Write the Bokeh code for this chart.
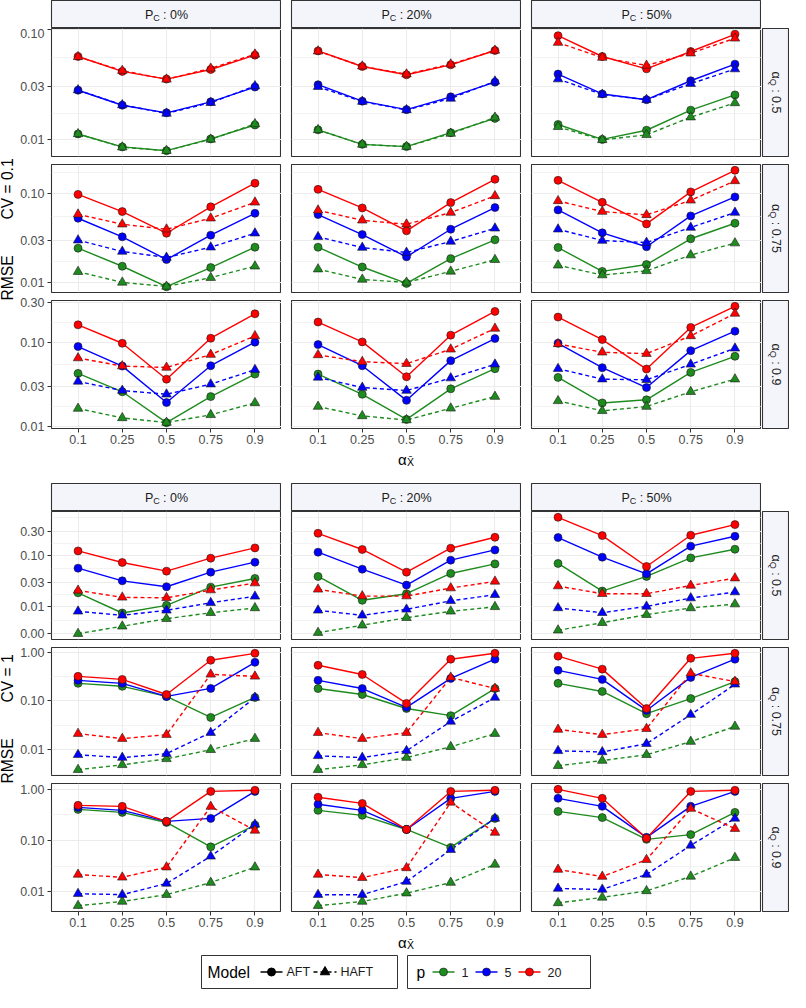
import math
from bokeh.plotting import figure
from bokeh.layouts import row, column
from bokeh.models import Range1d, FixedTicker, CustomJSTickFormatter, Spacer
from bokeh.core.properties import value
from bokeh.embed import file_html
from bokeh.resources import INLINE

# ---------------- data ----------------
XCAT = ["0.1", "0.25", "0.5", "0.75", "0.9"]
P_LEVELS = ["1", "5", "20"]
P_COLORS = ["#1E8B1E", "#0000FF", "#FF0000"]
MODELS = ["AFT", "HAFT"]
PC_LEVELS = ["0%", "20%", "50%"]
Q_LEVELS = ["0.5", "0.75", "0.9"]
CV_LEVELS = ["0.1", "1"]

# each: [p=1, p=5, p=20] over XCAT
cv01_q050_pc00_aft = [[0.0112, 0.00855, 0.0079, 0.0101, 0.0135], [0.0279, 0.0204, 0.0174, 0.0219, 0.0298], [0.0564, 0.0413, 0.0352, 0.043, 0.058]]
cv01_q050_pc00_haft = [[0.0112, 0.0085, 0.0079, 0.0100, 0.0138], [0.028, 0.0205, 0.0172, 0.0215, 0.0305], [0.056, 0.042, 0.035, 0.044, 0.059]]
cv01_q050_pc20_aft = [[0.0122, 0.00902, 0.0086, 0.0115, 0.0155], [0.0313, 0.0222, 0.0186, 0.0243, 0.033], [0.0634, 0.0458, 0.0385, 0.0474, 0.0639]]
cv01_q050_pc20_haft = [[0.0122, 0.0090, 0.0086, 0.0113, 0.0158], [0.030, 0.022, 0.0185, 0.0235, 0.0336], [0.063, 0.046, 0.039, 0.048, 0.064]]
cv01_q050_pc50_aft = [[0.01365, 0.0100, 0.0121, 0.0184, 0.0253], [0.0391, 0.0258, 0.0229, 0.034, 0.0481], [0.0871, 0.0564, 0.0436, 0.0626, 0.0896]]
cv01_q050_pc50_haft = [[0.0130, 0.0099, 0.0110, 0.0159, 0.0214], [0.0352, 0.0255, 0.0229, 0.032, 0.0434], [0.0754, 0.0552, 0.0468, 0.0604, 0.0824]]

cv01_q075_pc00_aft = [[0.0243, 0.0152, 0.00895, 0.0147, 0.0249], [0.0528, 0.0326, 0.0181, 0.034, 0.060], [0.098, 0.0628, 0.0358, 0.071, 0.131]]
cv01_q075_pc00_haft = [[0.0132, 0.0100, 0.0090, 0.0113, 0.0152], [0.0299, 0.0223, 0.0191, 0.0249, 0.0358], [0.0585, 0.0452, 0.0397, 0.0528, 0.0798]]
cv01_q075_pc20_aft = [[0.0249, 0.0149, 0.00975, 0.0185, 0.0302], [0.0581, 0.0346, 0.0194, 0.0397, 0.0696], [0.1117, 0.069, 0.0381, 0.0792, 0.145]]
cv01_q075_pc20_haft = [[0.0141, 0.0108, 0.0100, 0.0133, 0.018], [0.0326, 0.0247, 0.0217, 0.0289, 0.0407], [0.0649, 0.0501, 0.0452, 0.0612, 0.0942]]
cv01_q075_pc50_aft = [[0.0247, 0.0133, 0.0159, 0.031, 0.0464], [0.0656, 0.0362, 0.0252, 0.0561, 0.0918], [0.141, 0.0798, 0.0456, 0.1045, 0.183]]
cv01_q075_pc50_haft = [[0.0156, 0.0121, 0.0135, 0.0203, 0.0277], [0.0397, 0.0296, 0.0281, 0.0415, 0.0612], [0.0828, 0.0628, 0.0576, 0.0841, 0.139]]

cv01_q090_pc00_aft = [[0.0427, 0.0257, 0.01096, 0.0225, 0.0419], [0.0895, 0.0522, 0.0191, 0.0528, 0.101], [0.163, 0.098, 0.0364, 0.1127, 0.221]]
cv01_q090_pc00_haft = [[0.0162, 0.0125, 0.0110, 0.0136, 0.0189], [0.0342, 0.0266, 0.024, 0.0317, 0.0473], [0.0652, 0.0522, 0.0503, 0.0717, 0.120]]
cv01_q090_pc20_aft = [[0.0419, 0.024, 0.012, 0.0279, 0.0486], [0.0946, 0.0528, 0.0203, 0.0607, 0.1117], [0.176, 0.1018, 0.0389, 0.1225, 0.236]]
cv01_q090_pc20_haft = [[0.0171, 0.0132, 0.0118, 0.0163, 0.0225], [0.0382, 0.0289, 0.0266, 0.0375, 0.0548], [0.071, 0.059, 0.0558, 0.083, 0.1475]]
cv01_q090_pc50_aft = [[0.0382, 0.0189, 0.0206, 0.0439, 0.0684], [0.098, 0.050, 0.0289, 0.080, 0.137], [0.2018, 0.1086, 0.0481, 0.1517, 0.2716]]
cv01_q090_pc50_haft = [[0.020, 0.0152, 0.0171, 0.0257, 0.0364], [0.0486, 0.0364, 0.0358, 0.0548, 0.0853], [0.0962, 0.0764, 0.0736, 0.120, 0.223]]

cv1_q050_pc00_aft = [[0.0188, 0.00759, 0.0107, 0.0242, 0.0357], [0.0567, 0.0321, 0.0246, 0.0474, 0.0741], [0.1228, 0.0731, 0.0496, 0.0887, 0.1406]]
cv1_q050_pc00_haft = [[0.0030, 0.00418, 0.00587, 0.00767, 0.0095], [0.00818, 0.00684, 0.00855, 0.012, 0.016], [0.0209, 0.0153, 0.015, 0.0212, 0.029]]
cv1_q050_pc20_aft = [[0.0391, 0.0134, 0.018, 0.0447, 0.0687], [0.116, 0.0542, 0.0265, 0.0811, 0.1285], [0.271, 0.131, 0.0474, 0.1387, 0.2265]]
cv1_q050_pc20_haft = [[0.00314, 0.00438, 0.00614, 0.00818, 0.0100], [0.00855, 0.00684, 0.00893, 0.0131, 0.0172], [0.0219, 0.0162, 0.0162, 0.0232, 0.0313]]
cv1_q050_pc50_aft = [[0.070, 0.0203, 0.0391, 0.0898, 0.1324], [0.224, 0.0927, 0.044, 0.152, 0.237], [0.5546, 0.2443, 0.0611, 0.2477, 0.3999]]
cv1_q050_pc50_haft = [[0.0035, 0.0049, 0.00703, 0.0095, 0.0113], [0.0095, 0.00767, 0.0102, 0.0148, 0.0194], [0.0254, 0.018, 0.018, 0.0261, 0.0362]]

cv1_q075_pc00_aft = [[0.23, 0.20, 0.124, 0.046, 0.118], [0.265, 0.23, 0.124, 0.181, 0.62], [0.32, 0.277, 0.136, 0.684, 0.95]]
cv1_q075_pc00_haft = [[0.0039, 0.0049, 0.0065, 0.010, 0.0169], [0.0079, 0.0069, 0.0083, 0.0224, 0.118], [0.0214, 0.0169, 0.0204, 0.352, 0.32]]
cv1_q075_pc20_aft = [[0.18, 0.136, 0.07, 0.05, 0.18], [0.265, 0.18, 0.074, 0.29, 0.72], [0.54, 0.35, 0.089, 0.72, 0.95]]
cv1_q075_pc20_haft = [[0.0039, 0.0049, 0.0069, 0.0115, 0.0214], [0.0075, 0.0069, 0.0095, 0.038, 0.118], [0.0224, 0.0169, 0.0224, 0.305, 0.18]]
cv1_q075_pc50_aft = [[0.23, 0.157, 0.055, 0.112, 0.25], [0.425, 0.277, 0.064, 0.305, 0.72], [0.83, 0.45, 0.07, 0.75, 0.95]]
cv1_q075_pc50_haft = [[0.0047, 0.006, 0.0079, 0.0147, 0.030], [0.0095, 0.009, 0.0133, 0.0525, 0.22], [0.026, 0.0204, 0.027, 0.37, 0.25]]

cv1_q090_pc00_aft = [[0.405, 0.354, 0.225, 0.075, 0.20], [0.443, 0.388, 0.236, 0.27, 0.91], [0.486, 0.464, 0.236, 0.91, 0.956]]
cv1_q090_pc00_haft = [[0.0053, 0.0064, 0.0087, 0.015, 0.030], [0.0091, 0.0087, 0.0144, 0.049, 0.206], [0.0216, 0.019, 0.030, 0.46, 0.157]]
cv1_q090_pc20_aft = [[0.388, 0.31, 0.164, 0.073, 0.27], [0.51, 0.388, 0.164, 0.666, 0.91], [0.70, 0.53, 0.164, 0.91, 0.956]]
cv1_q090_pc20_haft = [[0.0053, 0.0064, 0.0093, 0.015, 0.034], [0.0087, 0.0087, 0.0157, 0.066, 0.27], [0.0216, 0.0187, 0.029, 0.555, 0.143]]
cv1_q090_pc50_aft = [[0.37, 0.28, 0.105, 0.13, 0.354], [0.666, 0.464, 0.115, 0.464, 0.91], [1.0, 0.666, 0.11, 0.91, 0.956]]
cv1_q090_pc50_haft = [[0.006, 0.0077, 0.0103, 0.0198, 0.046], [0.0115, 0.011, 0.0216, 0.08, 0.27], [0.027, 0.0197, 0.042, 0.42, 0.17]]

YTICKS_CV01 = [[0.01, 0.03, 0.1], [0.01, 0.03, 0.1, 0.3], [0.01, 0.03, 0.1, 0.3]]
YTICKS_CV1 = [[0.003, 0.01, 0.03, 0.1, 0.3], [0.01, 0.1, 1.0], [0.01, 0.1, 1.0]]

PANELS = {
    "0.1": [
        [(cv01_q050_pc00_aft, cv01_q050_pc00_haft), (cv01_q050_pc20_aft, cv01_q050_pc20_haft), (cv01_q050_pc50_aft, cv01_q050_pc50_haft)],
        [(cv01_q075_pc00_aft, cv01_q075_pc00_haft), (cv01_q075_pc20_aft, cv01_q075_pc20_haft), (cv01_q075_pc50_aft, cv01_q075_pc50_haft)],
        [(cv01_q090_pc00_aft, cv01_q090_pc00_haft), (cv01_q090_pc20_aft, cv01_q090_pc20_haft), (cv01_q090_pc50_aft, cv01_q090_pc50_haft)],
    ],
    "1": [
        [(cv1_q050_pc00_aft, cv1_q050_pc00_haft), (cv1_q050_pc20_aft, cv1_q050_pc20_haft), (cv1_q050_pc50_aft, cv1_q050_pc50_haft)],
        [(cv1_q075_pc00_aft, cv1_q075_pc00_haft), (cv1_q075_pc20_aft, cv1_q075_pc20_haft), (cv1_q075_pc50_aft, cv1_q075_pc50_haft)],
        [(cv1_q090_pc00_aft, cv1_q090_pc00_haft), (cv1_q090_pc20_aft, cv1_q090_pc20_haft), (cv1_q090_pc50_aft, cv1_q090_pc50_haft)],
    ],
}
YTICKS = {"0.1": YTICKS_CV01, "1": YTICKS_CV1}

# ---------------- layout constants ----------------
FONT = "Liberation Sans"
PW, PH = 230, 128
AX_W = 34
GAP = 10
HALF_GAP_V = 4
XAX_H = 22
RS_W = 28
STRIP_H = 28
LEFT_W = 17
XT_H = 18
BLOCK_GAP = 15
LEG_H = 39
PAGE_X0, PAGE_Y0 = 8, 8
STRIP_FILL = "#F4F5FB"
DARK = "#333333"
GRID = "#EBEBEB"

CHAR_W = {"0": .556, "1": .556, "2": .556, "5": .556, "7": .556, "9": .556, ".": .278,
          ":": .278, " ": .278, "%": .889}


def text_w(s, size):
    return sum(CHAR_W.get(ch, .6) for ch in s) * size


def base_fig(w, h, xr, yr, ml=0, mr=0, mt=0, mb=0, **kw):
    p = figure(width=w, height=h, x_range=xr, y_range=yr, output_backend="svg",
               toolbar_location=None, title=None,
               min_border_left=ml, min_border_right=mr, min_border_top=mt, min_border_bottom=mb, **kw)
    p.background_fill_color = "white"
    p.border_fill_color = "white"
    return p


def deco_fig(w, h, xr, yr, ml=0, mr=0, mt=0, mb=0):
    p = base_fig(w, h, xr, yr, ml, mr, mt, mb, x_axis_location=None, y_axis_location=None)
    p.grid.visible = False
    p.outline_line_color = None
    return p


def txt(p, x, y, s, size, color="#1A1A1A", align="left", baseline="middle", angle=0.0, xo=0.0, yo=0.0):
    p.text(x=[x], y=[y], text=[s], text_font=value(FONT), text_font_size=f"{size}px",
           text_color=color, text_align=align, text_baseline=baseline, angle=angle,
           x_offset=xo, y_offset=yo)


def log_limits(vals):
    lv = [math.log10(v) for v in vals]
    lo, hi = min(lv), max(lv)
    e = 0.05 * (hi - lo)
    return lo - e, hi + e


def minor_breaks(majors, lo, hi):
    b = [math.log10(m) for m in majors if lo <= math.log10(m) <= hi]
    bd = b[1] - b[0]
    if lo < b[0]:
        b = [b[0] - bd] + b
    if hi > b[-1]:
        b = b + [b[-1] + bd]
    mids = [(b[i] + b[i + 1]) / 2 for i in range(len(b) - 1)]
    return [10 ** m for m in mids if lo <= m <= hi]


XPOS = list(range(1, len(XCAT) + 1))


def row_borders(r):
    mt = HALF_GAP_V if r > 0 else 0
    mb = XAX_H if r == 2 else HALF_GAP_V
    return mt, mb


def panel(series, lims, majors, r, c):
    left = c == 0
    bottom = r == 2
    mt, mb = row_borders(r)
    ml = AX_W if left else GAP
    p = base_fig(ml + PW, PH + mt + mb, Range1d(0.4, len(XCAT) + 0.6),
                 Range1d(10 ** lims[0], 10 ** lims[1]), ml, 0, mt, mb,
                 y_axis_type="log",
                 x_axis_location="below" if bottom else None,
                 y_axis_location="left" if left else None)
    p.outline_line_color = DARK
    p.outline_line_width = 1.1
    lo, hi = lims
    inr = [m for m in majors if lo <= math.log10(m) <= hi]
    yt = FixedTicker(ticks=inr, minor_ticks=minor_breaks(majors, lo, hi))
    xt = FixedTicker(ticks=XPOS, minor_ticks=[])
    for g in p.ygrid:
        g.axis.ticker = yt
    for g in p.xgrid:
        g.axis.ticker = xt
    p.xgrid.grid_line_color = GRID
    p.xgrid.grid_line_width = 1.1
    p.ygrid.grid_line_color = GRID
    p.ygrid.grid_line_width = 1.1
    p.ygrid.minor_grid_line_color = GRID
    p.ygrid.minor_grid_line_width = 0.6
    for ax in list(p.xaxis) + list(p.yaxis):
        ax.axis_line_color = None
        ax.major_tick_out = 4
        ax.major_tick_in = 0
        ax.minor_tick_out = 0
        ax.minor_tick_in = 0
        ax.major_tick_line_color = DARK
        ax.major_label_text_color = "#4D4D4D"
        ax.major_label_text_font = FONT
        ax.major_label_text_font_size = "12.5px"
        ax.major_label_standoff = 2
    for ax in p.yaxis:
        ax.major_label_standoff = 3
        ax.formatter = CustomJSTickFormatter(code="return tick.toFixed(2)")
    for ax in p.xaxis:
        ax.major_label_overrides = {i + 1: lab for i, lab in enumerate(XCAT)}

    aft, haft = series
    for vals, dash in ((aft, "solid"), (haft, "4 3")):
        for k, col in enumerate(P_COLORS):
            p.line(XPOS, vals[k], line_color=col, line_width=1.4, line_dash=dash)
    for vals, marker, size in ((aft, "circle", 8), (haft, "triangle", 9.5)):
        for k, col in enumerate(P_COLORS):
            p.scatter(XPOS, vals[k], marker=marker, size=size, fill_color=col,
                      line_color="#1A1A1A", line_width=0.6)
    return p


def col_strip(c):
    ml = AX_W if c == 0 else GAP
    p = deco_fig(ml + PW, STRIP_H, Range1d(0, 1), Range1d(0, 1), ml=ml)
    p.background_fill_color = STRIP_FILL
    p.outline_line_color = DARK
    p.outline_line_width = 1.1
    rest = ": " + PC_LEVELS[c]
    pw_, cw_ = 0.667 * 12.5, 0.722 * 9
    total = pw_ + cw_ + 3.4 + text_w(rest, 12.5)
    s = -total / 2
    txt(p, 0.5, 0.5, "P", 12.5, xo=s)
    txt(p, 0.5, 0.5, "C", 9, xo=s + pw_, yo=3.5)
    txt(p, 0.5, 0.5, rest, 12.5, xo=s + pw_ + cw_ + 3.4)
    return p


def right_strip(r):
    mt, mb = row_borders(r)
    p = deco_fig(RS_W, PH + mt + mb, Range1d(0, 1), Range1d(0, 1), ml=1, mt=mt, mb=mb)
    p.background_fill_color = STRIP_FILL
    p.outline_line_color = DARK
    p.outline_line_width = 1.1
    rest = ": " + Q_LEVELS[r]
    aw, qw = 0.58 * 12.5, 0.778 * 9
    total = aw + qw + 3.4 + text_w(rest, 12.5)
    s = -total / 2
    ang = -math.pi / 2
    txt(p, 0.5, 0.5, "\u03b1", 12.5, angle=ang, yo=s)
    txt(p, 0.5, 0.5, "Q", 9, angle=ang, yo=s + aw, xo=-3.5)
    txt(p, 0.5, 0.5, rest, 12.5, angle=ang, yo=s + aw + qw + 3.4)
    return p


def block(cv, y0):
    H = STRIP_H + 3 * PH + 4 * HALF_GAP_V + XAX_H + XT_H
    rows = [row(*[col_strip(c) for c in range(3)], Spacer(width=RS_W, height=STRIP_H))]
    for r in range(3):
        allv = []
        for c in range(3):
            for s in PANELS[cv][r][c]:
                for v in s:
                    allv += v
        lims = log_limits(allv)
        figs = [panel(PANELS[cv][r][c], lims, YTICKS[cv][r], r, c) for c in range(3)]
        figs.append(right_strip(r))
        rows.append(row(*figs))
    # x title
    w = AX_W + PW + 2 * (GAP + PW) + RS_W
    x0 = PAGE_X0 + LEFT_W
    yt = y0 + H - XT_H
    xt = deco_fig(w, XT_H, Range1d(x0, x0 + w), Range1d(yt + XT_H, yt))
    xc = x0 + AX_W + (3 * PW + 2 * GAP) / 2
    txt(xt, xc - 8.4, yt + 8.5, "\u03b1", 15, color="black")
    txt(xt, xc + 0.4, yt + 11.5, "X\u0304", 10.5, color="black")
    rows.append(xt)
    # y title
    yl = deco_fig(LEFT_W, H, Range1d(PAGE_X0, PAGE_X0 + LEFT_W), Range1d(y0 + H, y0))
    yc = y0 + STRIP_H + (3 * PH + 4 * HALF_GAP_V) / 2
    txt(yl, PAGE_X0 + 6.5, yc + 72, "RMSE", 15.6, color="black", angle=math.pi / 2)
    txt(yl, PAGE_X0 + 6.5, yc - 9, "CV = " + cv, 15.6, color="black", angle=math.pi / 2)
    return row(yl, column(*rows)), H


def legend_fig(ytop):
    p = deco_fig(790, LEG_H, Range1d(PAGE_X0, PAGE_X0 + 790), Range1d(ytop + LEG_H, ytop))
    yb0, yb1 = ytop + 4, ytop + 37
    yc = (yb0 + yb1) / 2
    p.quad(left=[209, 415], right=[405, 598], top=[yb0, yb0], bottom=[yb1, yb1],
           fill_color="white", line_color=DARK, line_width=1)
    txt(p, 215, yc, "Model", 15.6, color="black")
    txt(p, 424, yc, "p", 15.6, color="black")
    # model keys
    p.line([268, 290], [yc, yc], line_color="black", line_width=1.4)
    p.scatter([279], [yc], marker="circle", size=8, fill_color="black", line_color="black")
    txt(p, 294, yc, MODELS[0], 12.5)
    p.line([321, 344], [yc, yc], line_color="black", line_width=1.4, line_dash="4 3")
    p.scatter([332.5], [yc], marker="triangle", size=9.5, fill_color="black", line_color="black")
    txt(p, 348, yc, MODELS[1], 12.5)
    kx = [440, 483, 526]
    for k, col in enumerate(P_COLORS):
        p.line([kx[k], kx[k] + 22], [yc, yc], line_color=col, line_width=1.4)
        p.scatter([kx[k] + 11], [yc], marker="circle", size=8, fill_color=col,
                  line_color="#1A1A1A", line_width=0.6)
        txt(p, kx[k] + 29, yc, P_LEVELS[k], 12.5)
    return p


top, H = block(CV_LEVELS[0], PAGE_Y0)
y_bot = PAGE_Y0 + H + BLOCK_GAP
bot, H2 = block(CV_LEVELS[1], y_bot)
leg = legend_fig(y_bot + H2)
page = column(top, Spacer(width=10, height=BLOCK_GAP), bot, leg)

open("out.html", "w").write(file_html(page, INLINE))
